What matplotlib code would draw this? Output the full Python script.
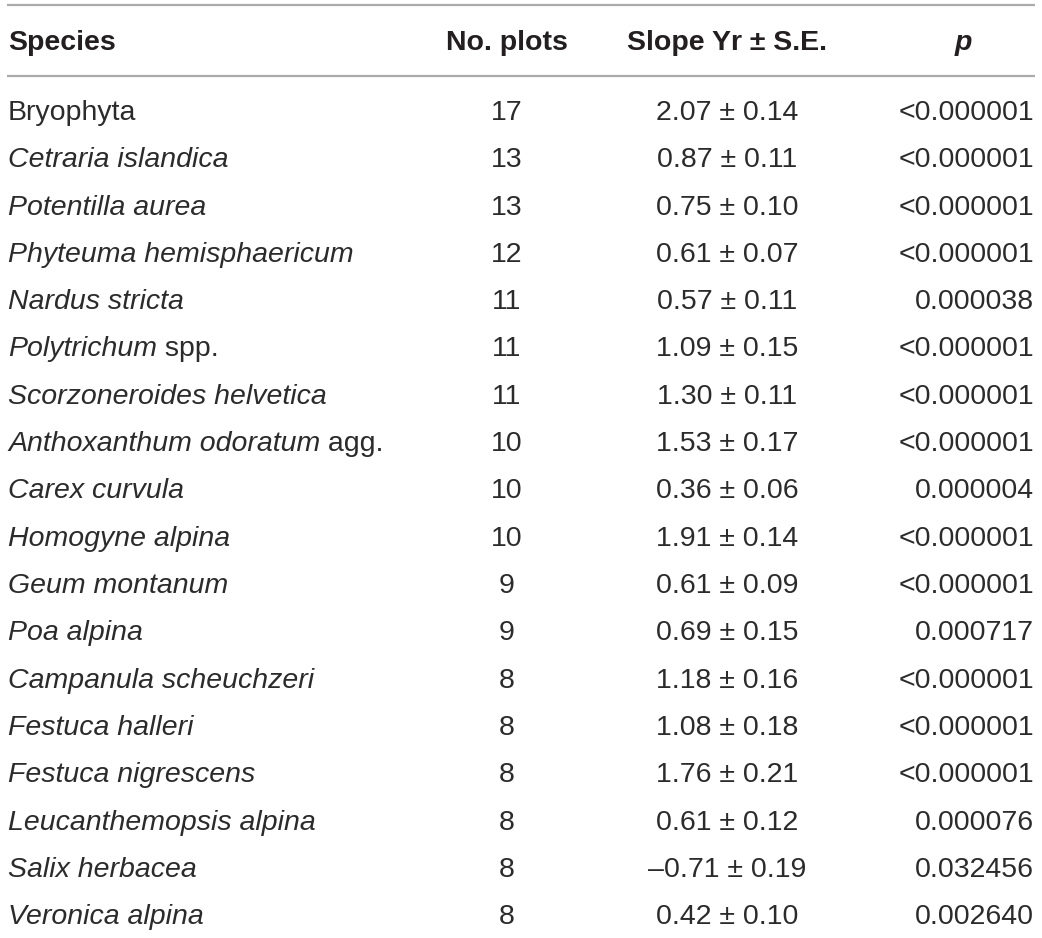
import matplotlib
matplotlib.use("Agg")
import matplotlib.pyplot as plt

# table content
headers = ["Species", "No. plots", "Slope Yr \u00b1 S.E.", "p"]
species_italic = ["", "Cetraria islandica", "Potentilla aurea", "Phyteuma hemisphaericum",
                  "Nardus stricta", "Polytrichum", "Scorzoneroides helvetica",
                  "Anthoxanthum odoratum", "Carex curvula", "Homogyne alpina",
                  "Geum montanum", "Poa alpina", "Campanula scheuchzeri",
                  "Festuca halleri", "Festuca nigrescens", "Leucanthemopsis alpina",
                  "Salix herbacea", "Veronica alpina"]
species_roman = ["Bryophyta", "", "", "", "", " spp.", "", " agg.", "", "", "", "", "",
                 "", "", "", "", ""]
n_plots = [17, 13, 13, 12, 11, 11, 11, 10, 10, 10, 9, 9, 8, 8, 8, 8, 8, 8]
slopes = [2.07, 0.87, 0.75, 0.61, 0.57, 1.09, 1.30, 1.53, 0.36, 1.91, 0.61, 0.69,
          1.18, 1.08, 1.76, 0.61, -0.71, 0.42]
slope_se = [0.14, 0.11, 0.10, 0.07, 0.11, 0.15, 0.11, 0.17, 0.06, 0.14, 0.09, 0.15,
            0.16, 0.18, 0.21, 0.12, 0.19, 0.10]
p_values = ["<0.000001", "<0.000001", "<0.000001", "<0.000001", "0.000038",
            "<0.000001", "<0.000001", "<0.000001", "0.000004", "<0.000001",
            "<0.000001", "0.000717", "<0.000001", "<0.000001", "<0.000001",
            "0.000076", "0.032456", "0.002640"]

W, H = 1042, 938
fig = plt.figure(figsize=(W / 100, H / 100), dpi=100)
ax = fig.add_axes([0, 0, 1, 1])
ax.set_xlim(0, W)
ax.set_ylim(H, 0)
ax.axis("off")

plt.rcParams["font.family"] = ["Liberation Sans", "DejaVu Sans"]
fs = 20.5
txt_color = "#2b2b2b"
head_color = "#231f20"
line_color = "#ababab"

x_species = 8
x_plots = 507
x_slope = 727
x_p_right = 1034
x_p_head = 963

header_y = 43
row_y0 = 113
row_step = 47.3

ax.plot([7, 1035], [5.5, 5.5], color=line_color, lw=1.6, solid_capstyle="butt")
ax.plot([7, 1035], [76.5, 76.5], color=line_color, lw=1.6, solid_capstyle="butt")

ax.text(x_species, header_y, headers[0], fontsize=fs, fontweight="bold",
        color=head_color, ha="left", va="center")
ax.text(x_plots, header_y, headers[1], fontsize=fs, fontweight="bold",
        color=head_color, ha="center", va="center")
ax.text(x_slope, header_y, headers[2], fontsize=fs, fontweight="bold",
        color=head_color, ha="center", va="center")
ax.text(x_p_head, header_y, headers[3], fontsize=fs, fontweight="bold",
        style="italic", color=head_color, ha="center", va="center")

fig.canvas.draw()
renderer = fig.canvas.get_renderer()

for i in range(len(n_plots)):
    y = row_y0 + i * row_step
    x = x_species
    if species_italic[i]:
        t = ax.text(x, y, species_italic[i], fontsize=fs, style="italic",
                    color=txt_color, ha="left", va="center")
        bb = t.get_window_extent(renderer=renderer)
        x = ax.transData.inverted().transform((bb.x1, bb.y0))[0]
    if species_roman[i]:
        ax.text(x, y, species_roman[i], fontsize=fs, color=txt_color,
                ha="left", va="center")
    ax.text(x_plots, y, str(n_plots[i]), fontsize=fs, color=txt_color,
            ha="center", va="center")
    s = f"{abs(slopes[i]):.2f} \u00b1 {slope_se[i]:.2f}"
    if slopes[i] < 0:
        s = "\u2013" + s
    ax.text(x_slope, y, s, fontsize=fs, color=txt_color, ha="center", va="center")
    ax.text(x_p_right, y, p_values[i], fontsize=fs, color=txt_color,
            ha="right", va="center")

fig.savefig("out.png", dpi=100)
